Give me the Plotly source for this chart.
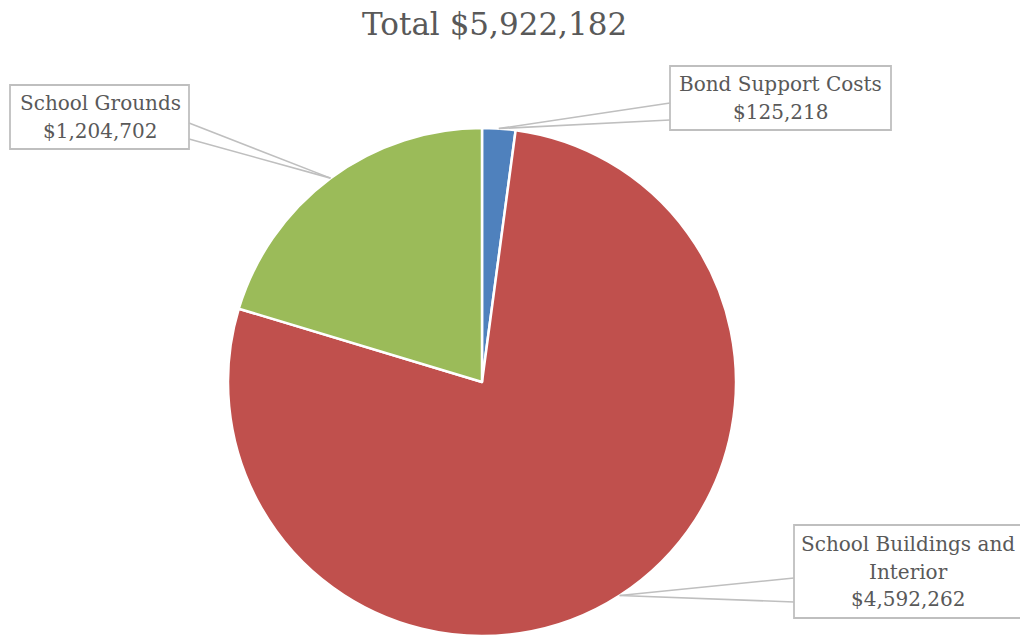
import math
import plotly.graph_objects as go

# ---- data ----
categories = ["Bond Support Costs", "School Buildings and Interior", "School Grounds"]
label_lines = [["Bond Support Costs"], ["School Buildings and", "Interior"], ["School Grounds"]]
values = [125218, 4592262, 1204702]
colors = ["#4F81BD", "#C0504D", "#9BBB59"]
title_text = "Total $5,922,182"

# ---- layout constants (pixels) ----
W, H = 1020, 637
CX, CY, R = 482, 382, 254
TEXT = "#595959"
BORDER = "#BFBFBF"
FONT = "DejaVu Serif"
LH = 27.5

# label boxes: (x0, y0, x1, y1) in px, and leader attachment side
boxes = [
    dict(box=(670, 66, 891, 130), side="left", att=(103, 120), tc=780),
    dict(box=(794, 525, 1023, 618), side="left", att=(578, 602), tc=908),
    dict(box=(10, 85, 189, 149), side="right", att=(123, 139), tc=100),
]

def px(x):
    return x / W

def py(y):
    return 1 - y / H

fig = go.Figure(go.Pie(
    labels=categories,
    values=values,
    marker=dict(colors=colors, line=dict(color="white", width=2.5)),
    sort=False,
    direction="clockwise",
    rotation=0,
    textinfo="none",
    hoverinfo="label+value",
    showlegend=False,
    domain=dict(x=[px(CX - R), px(CX + R)], y=[py(CY + R), py(CY - R)]),
))

total = sum(values)
shapes = []
annotations = []
cum = 0
for i, v in enumerate(values):
    mid = (cum + v / 2) / total * 2 * math.pi
    cum += v
    tx = CX + R * math.sin(mid)
    ty = CY - R * math.cos(mid)
    b = boxes[i]
    x0, y0, x1, y1 = b["box"]
    sx = x0 if b["side"] == "left" else x1
    shapes.append(dict(type="rect", xref="paper", yref="paper",
                       x0=px(x0), x1=px(x1), y0=py(y1), y1=py(y0),
                       line=dict(color=BORDER, width=1.8), fillcolor="white", layer="above"))
    for ay in b["att"]:
        shapes.append(dict(type="line", xref="paper", yref="paper",
                           x0=px(sx), y0=py(ay), x1=px(tx), y1=py(ty),
                           line=dict(color=BORDER, width=1.6), layer="above"))
    lines = label_lines[i] + [f"${v:,}"]
    n = len(lines)
    yc = (y0 + y1) / 2
    for k, t in enumerate(lines):
        annotations.append(dict(
            xref="paper", yref="paper", x=px(b["tc"]), y=py(yc + (k - (n - 1) / 2) * LH),
            xanchor="center", yanchor="middle", showarrow=False,
            text=t, font=dict(family=FONT, size=20, color=TEXT),
        ))

annotations.append(dict(
    xref="paper", yref="paper", x=px(494), y=py(24), xanchor="center", yanchor="middle",
    showarrow=False, text=title_text, font=dict(family=FONT, size=31, color=TEXT),
))

fig.update_layout(
    width=W, height=H,
    margin=dict(l=0, r=0, t=0, b=0),
    paper_bgcolor="white", plot_bgcolor="white",
    shapes=shapes, annotations=annotations,
)

fig.write_html("out.html", config={"displayModeBar": False},
               post_script="document.body.style.margin='0';document.body.style.overflow='hidden';")
